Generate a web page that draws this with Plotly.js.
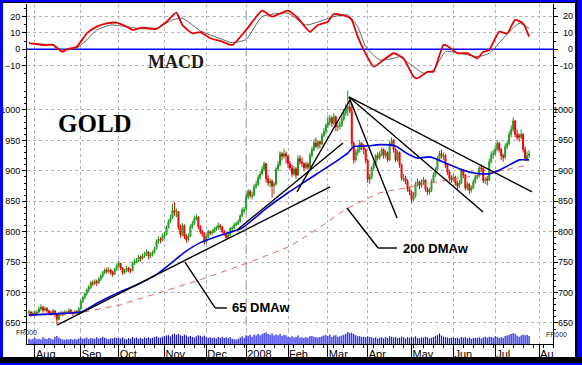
<!DOCTYPE html>
<html><head><meta charset="utf-8">
<script src="https://cdn.plot.ly/plotly-3.0.1.min.js"></script>
<style>
html,body{margin:0;padding:0;background:#fff;}
#wrap{position:relative;width:582px;height:365px;overflow:hidden;}
#chart{position:absolute;left:0;top:0;width:582px;height:365px;}
.fr{position:absolute;pointer-events:none;}
</style></head><body>
<div id="wrap"><div id="chart"></div>
<div class="fr" style="left:0;top:0;width:582px;height:2px;background:#0000ff"></div>
<div class="fr" style="left:0;top:2px;width:582px;height:1px;background:#000"></div>
<div class="fr" style="left:0;top:0;width:3px;height:365px;background:#0000ff"></div>
<div class="fr" style="left:575px;top:0;width:2px;height:365px;background:#000"></div>
<div class="fr" style="left:577px;top:0;width:5px;height:365px;background:#0000ff"></div>
<div class="fr" style="left:0;top:357px;width:582px;height:6px;background:#000"></div>
<div class="fr" style="left:0;top:363px;width:582px;height:2px;background:#0000ff"></div>
</div>
<script>
// month ticks (trading-day index of first session of each month)
const monthIdx = [3,26,45,68,89,109,130,150,170,192,213,234,256];
const monthLbl = ['Aug','Sep','Oct','Nov','Dec','2008','Feb','Mar','Apr','May','Jun','Jul','Au'];
const macdTicks = [20,10,0,-10];
const priceTicks = [1000,950,900,850,800,750,700,650];

// daily OHLC, Jul 27 2007 .. Jul 25 2008
const open = [
667,668,664,
666,664,668,673,676,671,674,670,667,666,670,664,656,664,667,665,668,667,671,667,666,669,668,
673,685,692,698,704,709,716,715,718,716,722,727,733,737,735,737,733,730,738,
744,748,740,733,735,740,737,736,748,751,752,758,756,760,763,767,760,762,766,772,784,788,786,
793,795,807,817,823,835,832,833,807,795,810,792,787,793,808,813,822,824,808,800,797,
783,792,800,798,800,804,806,810,808,800,797,790,795,805,806,811,813,817,826,834,
838,857,866,858,860,874,878,889,895,903,912,887,880,883,875,878,903,910,928,924,928,
924,912,905,895,903,893,920,915,912,905,911,906,925,935,946,940,948,944,958,965,
975,980,987,978,989,972,973,975,985,995,1002,1005,998,945,918,930,935,945,940,935,
917,886,890,905,912,925,922,928,935,925,930,918,945,950,935,918,930,910,886,888,883,870,
865,853,858,878,882,876,880,885,870,865,868,882,893,902,920,928,923,925,910,898,888,
885,890,880,875,880,900,893,872,878,868,872,882,890,892,905,904,884,887,885,915,927,
928,935,945,935,925,922,940,945,960,968,982,960,958,955,960,935,920,925];
const high = [
672,670,669,
670,671,677,681,678,677,676,672,670,673,671,666,668,670,669,671,670,674,673,669,671,671,676,
688,694,700,707,712,719,720,722,721,725,730,736,740,741,742,739,736,741,748,
752,749,742,739,744,742,740,751,756,757,762,761,764,767,771,768,766,769,775,787,792,791,797,
800,810,820,828,846,849,838,834,812,814,812,796,797,812,818,826,829,826,811,803,799,
795,803,802,804,808,810,815,813,809,803,799,798,808,809,815,816,820,829,840,841,
862,870,869,866,878,884,893,900,908,915,913,893,888,886,882,906,916,932,931,936,932,
926,916,910,908,906,925,926,922,914,915,914,930,940,952,955,950,950,962,970,978,
990,992,990,995,991,980,982,992,1002,1010,1032,1015,1010,948,935,942,950,948,944,937,
920,895,908,915,928,930,932,938,937,934,932,948,955,952,938,934,932,912,895,892,886,874,
867,865,882,888,884,886,890,886,873,872,886,897,906,924,933,935,930,928,913,902,893,
895,892,884,885,904,903,895,882,880,876,886,894,897,908,910,906,890,892,920,932,935,
942,950,948,938,928,945,950,965,975,988,984,968,962,968,962,940,932,934];
const low = [
662,660,661,
661,662,666,670,667,669,666,663,662,664,659,648,654,661,661,663,664,665,664,662,664,665,667,
672,683,689,695,701,706,711,712,711,714,719,724,730,731,732,729,726,729,736,
741,737,729,730,733,733,732,735,745,748,750,751,754,757,760,755,757,759,764,771,780,781,784,
788,794,805,814,821,826,824,803,790,793,788,782,784,791,805,811,818,804,796,792,779,
780,789,794,795,798,801,803,803,797,793,786,788,793,801,804,809,811,815,824,830,
836,853,855,853,858,870,875,885,893,899,881,875,873,856,862,876,900,907,917,920,912,
905,900,890,892,887,891,910,906,900,902,902,904,922,932,938,935,937,942,955,960,
970,975,972,975,965,965,968,972,982,990,990,995,940,912,915,925,930,934,927,912,
880,878,886,900,908,917,918,924,920,921,914,916,940,930,914,915,905,884,882,878,866,860,
847,850,856,874,870,872,877,866,860,861,865,880,890,900,915,920,918,905,893,882,880,
882,876,870,872,878,888,868,868,862,864,870,879,886,889,898,880,878,876,883,912,920,
925,932,930,918,915,920,935,942,955,964,955,950,948,952,930,916,917,921];
const close = [
668,663,666,
664,668,673,676,671,674,670,667,666,670,664,656,664,667,665,668,667,671,667,666,669,668,673,
685,692,698,704,709,716,715,718,716,722,727,733,737,735,737,733,730,738,744,
748,740,733,735,740,737,736,748,752,752,758,756,760,763,767,760,762,766,772,784,788,786,793,
795,807,817,823,835,832,833,807,795,810,792,787,793,808,813,822,824,808,800,797,783,
792,800,798,800,804,806,810,808,800,797,790,795,805,806,811,813,817,826,836,836,
857,866,860,860,874,878,889,895,903,912,887,880,883,875,878,903,910,928,924,928,924,
912,905,895,903,893,920,915,912,905,911,906,925,935,946,940,948,944,958,965,975,
980,987,978,989,972,973,975,985,995,1002,1005,998,945,918,930,935,945,940,935,917,
886,890,905,912,925,922,928,935,925,930,918,945,950,935,918,930,910,888,888,883,870,865,
853,858,878,882,876,880,885,870,865,868,882,893,902,920,928,925,925,910,898,888,885,
890,880,875,880,900,893,872,878,868,872,882,890,892,905,904,884,885,885,915,927,928,
935,945,935,925,922,940,945,960,968,982,960,955,955,960,935,920,925,928];
const volume = [
38,30,35,
40,33,36,30,45,38,34,41,36,30,48,55,42,35,30,28,33,31,36,29,34,30,38,
42,36,39,44,33,40,37,35,46,38,41,49,43,36,32,39,37,44,40,
41,38,45,35,33,40,36,47,39,43,37,42,35,44,40,46,38,41,48,52,45,43,50,
55,58,60,52,66,70,63,68,59,54,62,57,50,55,48,44,52,60,56,49,58,
46,42,45,40,44,38,47,43,50,41,45,39,48,36,33,30,35,44,52,40,
58,55,62,50,64,57,70,60,66,75,80,68,62,72,58,65,60,67,55,63,59,
50,46,52,44,48,57,42,45,40,47,43,52,55,49,46,44,48,53,58,61,
55,62,48,57,60,50,53,58,63,70,82,74,76,68,60,52,55,48,50,45,
52,47,44,40,46,38,42,45,39,48,41,53,50,44,47,40,43,50,45,38,46,42,
48,44,52,41,39,45,43,50,46,38,42,47,55,60,72,58,50,46,44,40,42,
45,40,43,38,47,42,48,39,44,36,41,43,40,46,38,44,49,42,50,47,43,
52,48,40,45,42,55,58,62,68,75,70,56,50,58,64,60,62,55];

// moving averages (index, value)
const ma65Idx = [0,13,26,35,45,55,65,72,78,86,95,107,119,130,136,145,153,160,163,170,176,184,190,195,201,204,209,217,224,231,236,243,246,251];
const ma65Val = [663,665,668,684,700,714,732,750,766,782,793,806,838,864,877,896,913,929,940,941,943,941,928,921,923,920,913,902,896,895,901,913,918,918];
const ma200Idx = [0,26,46,66,86,110,131,144,160,176,193,210,226,243,251];
const ma200Val = [664,667,680,700,721,749,776,803,839,864,874,885,893,905,910];

// MACD and signal
const macdIdx = [0,7,12,14,17,19,24,29,34,39,44,49,52,57,64,69,74,77,82,86,91,96,102,109,117,122,130,135,141,145,150,153,160,162,165,168,173,178,183,188,193,195,200,203,208,210,215,220,225,228,231,236,240,244,248,251];
const macdVal = [3.7,2.6,2.8,0.6,-1.5,0,1.6,9.7,13.8,15.8,16.2,13.8,11.8,13.2,12.4,16.8,22.3,14.8,9.7,10.5,6.7,5.1,2.6,11.8,23.5,19.9,23.5,18.9,10.7,14.8,16.8,21.5,19.9,17.8,7.7,-0.4,-10.6,-6.5,-2.4,-5.5,-16.7,-17.7,-13.7,-13.7,2.6,2.0,-2.4,-2.4,-5.5,-1.5,-0.4,10.7,9.7,17.9,15.8,7.7];
const sigIdx = [0,12,17,24,29,34,41,49,56,64,72,77,86,96,102,109,117,130,139,153,160,165,169,176,183,186,193,198,203,209,215,225,231,238,246,251];
const sigVal = [3.7,2.5,-0.4,0.7,5.7,11.8,14.8,13.8,12.5,12.8,17.9,18.9,11.3,6.5,4,6,19.9,22,14.8,19.9,20.9,13.8,1.6,-6.5,-5.5,-4.5,-10.6,-14.6,-12.5,-1.5,-2,-4.5,-2.5,6.7,15.8,12.8];

// drawn trend lines [x0, price0, x1, price1]
const trendLines = [
  [14.1,646.7,151.1,873.5],
  [104.4,802.8,157.6,945.8],
  [134.5,865.3,161.1,1016.4],
  [160.6,1021.4,184.7,822.5],
  [160.6,1021.4,227.9,832.4],
  [160.6,1021.4,252.5,865.3]
];
// label leader lines
const leader65 = [[78.3,750.2],[93.4,674.7],[99.4,674.7]];
const leader200 = [[159.6,839],[175.2,773.2],[184.7,773.2]];
const macdZero = [-1,263];

const day = open.map((_, i) => i);
const sans = 'Liberation Sans, Arial, sans-serif';
const serif = 'Liberation Serif, Times New Roman, serif';
const tf = {family: sans, size: 9, color: '#000'};

const traces = [
  {type:'bar', x:day, y:volume, xaxis:'x', yaxis:'y3', marker:{color:'#1414e6', line:{width:0}}, width:0.6, hoverinfo:'skip'},
  {type:'scatter', mode:'lines', x:macdZero, y:[0,0], xaxis:'x', yaxis:'y', line:{color:'#0000ff', width:1.5}, hoverinfo:'skip'},
  {type:'candlestick', x:day, open:open, high:high, low:low, close:close, xaxis:'x', yaxis:'y2',
   increasing:{line:{color:'#1a961a', width:1}, fillcolor:'#80d080'},
   decreasing:{line:{color:'#e80000', width:1}, fillcolor:'#ff2a2a'}, whiskerwidth:0, hoverinfo:'skip'},
  {type:'scatter', mode:'lines', x:ma200Idx, y:ma200Val, xaxis:'x', yaxis:'y2', line:{color:'#e06a6a', width:1, dash:'6px,5px'}, hoverinfo:'skip'},
  {type:'scatter', mode:'lines', x:ma65Idx, y:ma65Val, xaxis:'x', yaxis:'y2', line:{color:'#0000e0', width:1.6, shape:'spline', smoothing:0.5}, hoverinfo:'skip'},
  {type:'scatter', mode:'lines', x:sigIdx, y:sigVal, xaxis:'x', yaxis:'y', line:{color:'#606060', width:1, shape:'spline', smoothing:0.5}, hoverinfo:'skip'},
  {type:'scatter', mode:'lines', x:macdIdx, y:macdVal, xaxis:'x', yaxis:'y', line:{color:'#e80000', width:1.8, shape:'spline', smoothing:0.5}, hoverinfo:'skip'}
];

const shapes = [
  {type:'line', xref:'x', yref:'paper', x0:monthIdx[5], x1:monthIdx[5], y0:0, y1:1, line:{color:'#909090', width:1, dash:'dash'}, layer:'below'}
];
trendLines.forEach(t => shapes.push({type:'line', xref:'x', yref:'y2', x0:t[0], y0:t[1], x1:t[2], y1:t[3], line:{color:'#000', width:1.4}}));
[leader65, leader200].forEach(l => {
  for (let i = 0; i < l.length - 1; i++) shapes.push({type:'line', xref:'x', yref:'y2', x0:l[i][0], y0:l[i][1], x1:l[i+1][0], y1:l[i+1][1], line:{color:'#000', width:1.4}});
});

const annotations = [
  {xref:'x', yref:'y', x:74, y:-8, text:'<b>MACD</b>', showarrow:false, font:{family:serif, size:18, color:'#1a1a1a'}},
  {xref:'x', yref:'y2', x:33, y:978, text:'<b>GOLD</b>', showarrow:false, font:{family:serif, size:25, color:'#000'}},
  {xref:'x', yref:'y2', x:101, y:675, xanchor:'left', text:'<b>65 DMAw</b>', showarrow:false, font:{family:sans, size:13, color:'#000'}},
  {xref:'x', yref:'y2', x:186.5, y:773, xanchor:'left', text:'<b>200 DMAw</b>', showarrow:false, font:{family:sans, size:13, color:'#000'}},
  {xref:'paper', yref:'paper', x:-0.025, y:0.018, text:'FR000', showarrow:false, font:{family:sans, size:7, color:'#222'}},
  {xref:'paper', yref:'paper', x:1.03, y:0.012, text:'FR000', showarrow:false, font:{family:sans, size:7, color:'#222'}}
];
macdTicks.forEach(v => annotations.push({xref:'paper', yref:'y', x:1.0418, y:v, xanchor:'right', text:String(v), showarrow:false, font:tf}));
priceTicks.forEach(v => annotations.push({xref:'paper', yref:'y2', x:1.0418, y:v, xanchor:'right', text:String(v), showarrow:false, font:tf}));

const grid = {showgrid:true, gridcolor:'#b4b4b4', griddash:'dot', gridwidth:1};
const yCommon = Object.assign({ticks:'outside', ticklen:4, tickcolor:'#000', showline:true, linecolor:'#000', linewidth:1, mirror:'ticks', zeroline:false, tickfont:tf, fixedrange:true}, grid);

const layout = {
  width:582, height:365, margin:{l:27, r:29, t:4, b:21, pad:0},
  paper_bgcolor:'#fff', plot_bgcolor:'#fff', showlegend:false, bargap:0.4,
  xaxis: Object.assign({range:[-1,263], anchor:'y3', tickmode:'array', tickvals:monthIdx, ticktext:monthLbl,
    ticks:'outside', ticklen:12, tickcolor:'#000', ticklabelposition:'outside right', ticklabelstandoff:0,
    tickfont:{family:sans, size:11, color:'#000'}, showline:true, linecolor:'#000', zeroline:false,
    rangeslider:{visible:false}, fixedrange:true,
    minor:{ticks:'outside', ticklen:3, tick0:3, dtick:5, tickcolor:'#000', showgrid:false}}, grid),
  yaxis: Object.assign({}, yCommon, {domain:[0.7529,1], range:[-23.6,27.6], tickmode:'array', tickvals:macdTicks,
    minor:{ticks:'outside', ticklen:2, dtick:5, tickcolor:'#000', showgrid:false}}),
  yaxis2: Object.assign({}, yCommon, {domain:[0.0412,0.7529], range:[638.5,1036.1], tickmode:'array', tickvals:priceTicks,
    minor:{ticks:'outside', ticklen:2, dtick:10, tickcolor:'#000', showgrid:false}}),
  yaxis3: {domain:[0,0.0412], range:[0,95], showticklabels:false, ticks:'', showgrid:false, showline:true, linecolor:'#000', mirror:true, zeroline:false, fixedrange:true},
  shapes: shapes, annotations: annotations
};

Plotly.newPlot('chart', traces, layout, {staticPlot:true, displayModeBar:false});
</script>
</body></html>
